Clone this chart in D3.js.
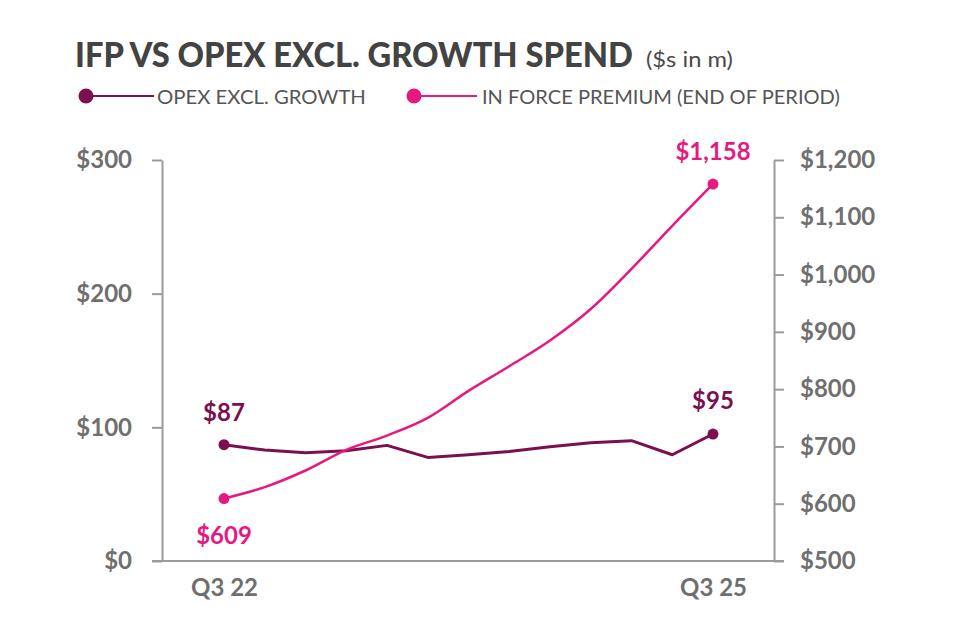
<!DOCTYPE html>
<html>
<head>
<meta charset="utf-8">
<script src="https://cdn.jsdelivr.net/npm/d3@7"></script>
<style>
  html, body { margin: 0; padding: 0; background: #ffffff; }
  svg { display: block; font-family: Lato, "Open Sans", sans-serif; }
</style>
</head>
<body>
<svg id="chart" width="968" height="643"></svg>
<script>
// ---- data ----
const quarters = ["Q3 22","Q4 22","Q1 23","Q2 23","Q3 23","Q4 23","Q1 24","Q2 24","Q3 24","Q4 24","Q1 25","Q2 25","Q3 25"];
const opexExclGrowth = [87, 83, 81, 82.5, 86.5, 77.5, 79.5, 82, 85.5, 88.5, 90, 79.5, 95];
const inForcePremium = [609, 629, 658, 694, 719, 750, 797, 840, 885, 940, 1010, 1085, 1158];
const leftTicks = [0, 100, 200, 300];
const rightTicks = [500, 600, 700, 800, 900, 1000, 1100, 1200];
const xTickLabels = ["Q3 22", "Q3 25"];
const seriesNames = ["OPEX EXCL. GROWTH", "IN FORCE PREMIUM (END OF PERIOD)"];
const titleText = "IFP VS OPEX EXCL. GROWTH SPEND";
const subtitleText = "($s in m)";

// ---- styles ----
const cOpex = "#7b0f50";
const cIfp = "#e6197f";
const cAxis = "#9b9b9b";
const cTick = "#6f6f6f";

const svg = d3.select("#chart");

const x = d3.scalePoint().domain(quarters).range([224, 713]);
const yL = d3.scaleLinear().domain([0, 300]).range([561, 160]);
const yR = d3.scaleLinear().domain([500, 1200]).range([561, 160]);

// text fitted horizontally to a target width via a scale transform
function fitText(tx, ty, width, size, weight, fill, str) {
  const g = svg.append("g");
  const t = g.append("text").attr("x", 0).attr("y", 0)
    .attr("font-size", size).attr("font-weight", weight).attr("fill", fill).text(str);
  const w = t.node().getComputedTextLength() || width;
  g.attr("transform", `translate(${tx},${ty}) scale(${width / w},1)`);
  return t;
}

// title
fitText(75, 67, 558, 34, 900, "#434343", titleText);
fitText(646, 67, 87, 22, 400, "#4a4a4a", subtitleText);

// legend
const legend = [
  { name: seriesNames[0], color: cOpex, cx: 86, x2: 154, tx: 157, tl: 209 },
  { name: seriesNames[1], color: cIfp, cx: 414, x2: 477, tx: 482, tl: 358 }
];
legend.forEach(d => {
  svg.append("line").attr("x1", d.cx).attr("x2", d.x2).attr("y1", 96).attr("y2", 96)
    .attr("stroke", d.color).attr("stroke-width", 2);
  svg.append("circle").attr("cx", d.cx).attr("cy", 96).attr("r", 7.5).attr("fill", d.color);
  fitText(d.tx, 103.5, d.tl, 18.5, 400, "#555555", d.name);
});

// axes
const fmtL = v => "$" + d3.format(",")(v);
const gL = svg.append("g").attr("transform", "translate(162,0)")
  .call(d3.axisLeft(yL).tickValues(leftTicks).tickFormat(fmtL).tickSize(10).tickSizeOuter(0).tickPadding(20));
const gR = svg.append("g").attr("transform", "translate(774,0)")
  .call(d3.axisRight(yR).tickValues(rightTicks).tickFormat(fmtL).tickSize(10).tickSizeOuter(0).tickPadding(16));
[gL, gR].forEach(g => {
  g.select(".domain").attr("stroke", cAxis).attr("stroke-width", 2);
  g.selectAll(".tick line").attr("stroke", cAxis).attr("stroke-width", 2);
  g.selectAll(".tick text").attr("fill", cTick).attr("font-size", 24).attr("font-weight", 700)
    .attr("font-family", "Lato, sans-serif");
});

// baseline
svg.append("line").attr("x1", 152).attr("x2", 784).attr("y1", yL(0)).attr("y2", yL(0))
  .attr("stroke", cAxis).attr("stroke-width", 2);

const gX = svg.append("g").attr("transform", "translate(0," + yL(0) + ")")
  .call(d3.axisBottom(x).tickValues(xTickLabels).tickSize(0).tickPadding(18));
gX.select(".domain").remove();
gX.selectAll(".tick text").attr("fill", cTick).attr("font-size", 24).attr("font-weight", 700)
  .attr("font-family", "Lato, sans-serif");

// lines
const opexLine = d3.line().x((d, i) => x(quarters[i])).y(d => yL(d));
const ifpLine = d3.line().x((d, i) => x(quarters[i])).y(d => yR(d)).curve(d3.curveMonotoneX);

svg.append("path").datum(opexExclGrowth).attr("d", opexLine)
  .attr("fill", "none").attr("stroke", cOpex).attr("stroke-width", 3).attr("stroke-linejoin", "round");
svg.append("path").datum(inForcePremium).attr("d", ifpLine)
  .attr("fill", "none").attr("stroke", cIfp).attr("stroke-width", 2.5).attr("stroke-linejoin", "round");

// end markers and labels
const last = quarters.length - 1;
const ends = [
  { q: quarters[0], y: yL(opexExclGrowth[0]), v: opexExclGrowth[0], c: cOpex, dy: -24 },
  { q: quarters[last], y: yL(opexExclGrowth[last]), v: opexExclGrowth[last], c: cOpex, dy: -25 },
  { q: quarters[0], y: yR(inForcePremium[0]), v: inForcePremium[0], c: cIfp, dy: 45 },
  { q: quarters[last], y: yR(inForcePremium[last]), v: inForcePremium[last], c: cIfp, dy: -24 }
];
ends.forEach(d => {
  svg.append("circle").attr("cx", x(d.q)).attr("cy", d.y).attr("r", 5.5).attr("fill", d.c);
  svg.append("text").attr("x", x(d.q)).attr("y", d.y + d.dy)
    .attr("text-anchor", "middle").attr("font-size", 24).attr("font-weight", 700)
    .attr("fill", d.c).text(fmtL(d.v));
});
</script>
</body>
</html>
